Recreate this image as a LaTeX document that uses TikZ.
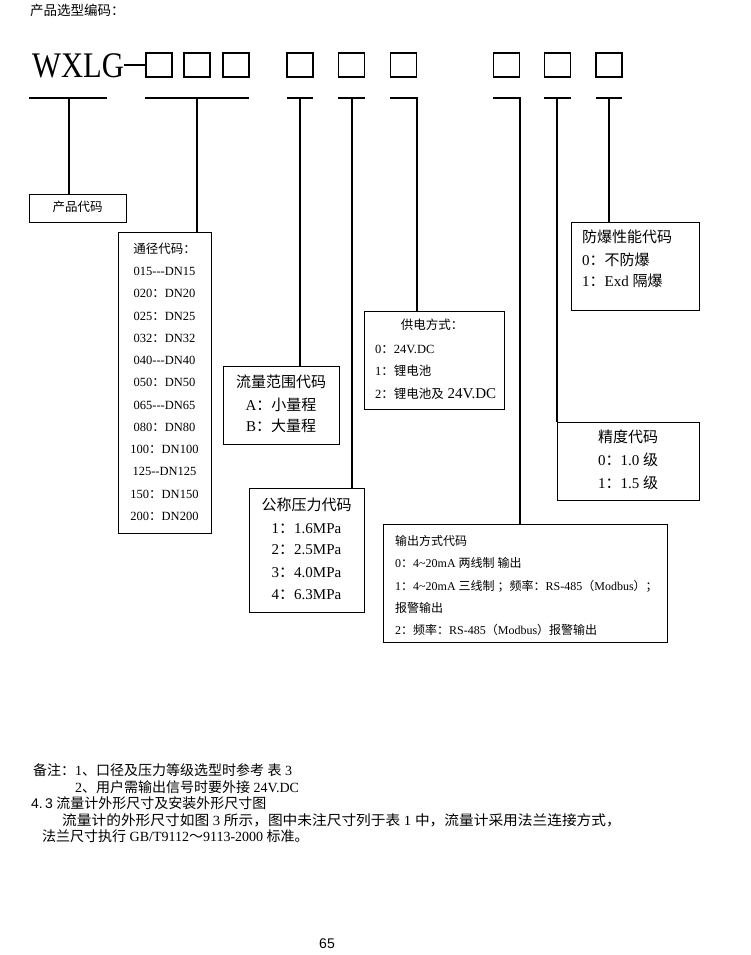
\documentclass[tikz,border=0pt]{standalone}
\usepackage{graphicx}
\usepackage{fontspec}
\setmainfont{Liberation Serif}
\newfontfamily\cjk{Noto Sans CJK SC}
\newfontfamily\pagefont{Liberation Sans}
\newcommand\zh[1]{{\cjk #1}}
\newcommand\fs[1]{\fontsize{#1}{#1}\selectfont}
\begin{document}
\begin{tikzpicture}[x=1pt,y=-1pt,
  ln/.style={line width=1.1pt},
  cbox/.style={draw,line width=1.1pt,inner sep=0pt,minimum width=26pt,minimum height=24pt},
  ibox/.style={draw,line width=1.1pt,inner sep=0pt,anchor=north west},
  txt/.style={inner sep=0pt,text height=.7em,text depth=0pt},
  txl/.style={txt,anchor=west},
  fsm/.style={font=\fs{12.5}},
  fmd/.style={font=\fs{15}},
  fnt/.style={font=\fs{14}}]
\fill[white] (0,0) rectangle (750,955);
\useasboundingbox (0,0) rectangle (750,955);

% title
\node[txl,font=\fs{13.5}] (title) at (30,12) {\zh{产品选型编码：}};

% code line
\node[inner sep=0pt,anchor=base west,font=\fs{36}] (wxlg) at (32,78) {\scalebox{0.85}[1]{WXLG}};
\node[cbox] (b1) at (159,65) {};
\node[cbox] (b2) at (197,65) {};
\node[cbox] (b3) at (236,65) {};
\node[cbox] (b4) at (300,65) {};
\node[cbox] (b5) at (351.5,65) {};
\node[cbox] (b6) at (403.5,65) {};
\node[cbox] (b7) at (506.5,65) {};
\node[cbox] (b8) at (557.5,65) {};
\node[cbox] (b9) at (609,65) {};
\draw[ln] (wxlg.east |- b1.west) -- (b1.west);

% description boxes
\node[ibox,minimum width=97pt,minimum height=28pt] (pd) at (29,194) {};
\node[ibox,minimum width=93pt,minimum height=301pt] (tj) at (118,232) {};
\node[ibox,minimum width=116pt,minimum height=78pt] (ll) at (223,366) {};
\node[ibox,minimum width=115pt,minimum height=124pt] (gc) at (249,488) {};
\node[ibox,minimum width=140pt,minimum height=98pt] (gd) at (364,311) {};
\node[ibox,minimum width=284pt,minimum height=118pt] (sc) at (383,524) {};
\node[ibox,minimum width=142pt,minimum height=78pt] (jd) at (557,422) {};
\node[ibox,minimum width=128pt,minimum height=88pt] (fb) at (571,222) {};

% underlines and connectors
\coordinate (u1a) at (29,98);  \coordinate (u1b) at (107,98); \coordinate (v1) at (69,98);
\coordinate (u2a) at (145,98); \coordinate (u2b) at (249,98); \coordinate (v2) at (197,98);
\coordinate (u4a) at (287,98); \coordinate (u4b) at (313,98); \coordinate (v4) at (300,98);
\coordinate (u5a) at (338,98); \coordinate (u5b) at (365,98); \coordinate (v5) at (352,98);
\coordinate (u6a) at (390,98); \coordinate (u6b) at (417,98);
\coordinate (u7a) at (493,98); \coordinate (u7b) at (520,98);
\coordinate (u8a) at (544,98); \coordinate (u8b) at (571,98); \coordinate (v8) at (557,98);
\coordinate (u9a) at (596,98); \coordinate (u9b) at (622,98); \coordinate (v9) at (609,98);

\draw[ln] (u1a) -- (u1b); \draw[ln] (v1) -- (v1 |- pd.north);
\draw[ln] (u2a) -- (u2b); \draw[ln] (v2) -- (v2 |- tj.north);
\draw[ln] (u4a) -- (u4b); \draw[ln] (v4) -- (v4 |- ll.north);
\draw[ln] (u5a) -- (u5b); \draw[ln] (v5) -- (v5 |- gc.north);
\draw[ln] (u6a) -- (u6b) -- (u6b |- gd.north);
\draw[ln] (u7a) -- (u7b) -- (u7b |- sc.north);
\draw[ln] (u8a) -- (u8b); \draw[ln] (v8) -- (v8 |- jd.north);
\draw[ln] (u9a) -- (u9b); \draw[ln] (v9) -- (v9 |- fb.north);

% texts: product code
\node[txt,fsm] (pdt) at (77.5,208) {\zh{产品代码}};

% nominal diameter
\foreach \tx [count=\i from 0] in {\zh{通径代码：},015-{}-{}-DN15,020\zh{：}DN20,025\zh{：}DN25,032\zh{：}DN32,040-{}-{}-DN40,050\zh{：}DN50,065-{}-{}-DN65,080\zh{：}DN80,100\zh{：}DN100,125-{}-DN125,150\zh{：}DN150,200\zh{：}DN200}
  {\node[txt,fsm] (tj\i) at (164.5,250+\i*22.23) {\tx};}

% flow range
\node[txt,fmd] (ll0) at (281,384) {\zh{流量范围代码}};
\node[txt,fmd] (ll1) at (281,407) {A\zh{：小量程}};
\node[txt,fmd] (ll2) at (281,428) {B\zh{：大量程}};

% nominal pressure
\node[txt,fmd] (gc0) at (306.5,507) {\zh{公称压力代码}};
\node[txt,fmd] (gc1) at (306.5,530) {1\zh{：}1.6MPa};
\node[txt,fmd] (gc2) at (306.5,551) {2\zh{：}2.5MPa};
\node[txt,fmd] (gc3) at (306.5,574) {3\zh{：}4.0MPa};
\node[txt,fmd] (gc4) at (306.5,596) {4\zh{：}6.3MPa};

% power supply
\node[txt,fsm] (gd0) at (432,326) {\zh{供电方式：}};
\node[txl,fsm] (gd1) at (375,350) {0\zh{：}24V.DC};
\node[txl,fsm] (gd2) at (375,372) {1\zh{：锂电池}};
\node[txl,fsm] (gd3) at (375,395) {2\zh{：锂电池及}\fs{15} 24V.DC};

% output
\node[txl,font=\fs{12}] (sc0) at (395,542) {\zh{输出方式代码}};
\node[txl,font=\fs{12}] (sc1) at (395,564) {0\zh{：}4{\char"7E}20mA \zh{两线制} \zh{输出}};
\node[txl,font=\fs{12}] (sc2) at (395,587) {1\zh{：}4{\char"7E}20mA \zh{三线制} \zh{；频率：}RS-485\zh{（}Modbus\zh{）；}};
\node[txl,font=\fs{12}] (sc3) at (395,609) {\zh{报警输出}};
\node[txl,font=\fs{12}] (sc4) at (395,631) {2\zh{：频率：}RS-485\zh{（}Modbus\zh{）报警输出}};

% accuracy
\node[txt,fmd] (jd0) at (628,439) {\zh{精度代码}};
\node[txt,fmd] (jd1) at (628,462) {0\zh{：}1.0 \zh{级}};
\node[txt,fmd] (jd2) at (628,485) {1\zh{：}1.5 \zh{级}};

% explosion proof
\node[txl,fmd] (fb0) at (582,239) {\zh{防爆性能代码}};
\node[txl,fmd] (fb1) at (582,262) {0\zh{：不防爆}};
\node[txl,fmd] (fb2) at (582,283) {1\zh{：}Exd \zh{隔爆}};

% notes
\node[txl,fnt] (n1) at (33,772) {\zh{备注：}1\zh{、口径及压力等级选型时参考} \zh{表} 3};
\node[txl,fnt] (n2) at (75,789) {2\zh{、用户需输出信号时要外接} 24V.DC};
\node[txl,fnt] (n3) at (31,805) {{\pagefont 4.\,3} \zh{流量计外形尺寸及安装外形尺寸图}};
\node[txl,fnt] (n4) at (62,822) {\scalebox{1.05}[1]{\zh{流量计的外形尺寸如图} 3 \zh{所示，图中未注尺寸列于表} 1 \zh{中，流量计采用法兰连接方式，}}};
\node[txl,fnt] (n5) at (42,838) {\zh{法兰尺寸执行} GB/T9112\zh{～}9113-2000 \zh{标准。}};

% page number
\node[txt,font=\pagefont\fs{14}] (pg) at (327,945) {65};
\end{tikzpicture}
\end{document}
